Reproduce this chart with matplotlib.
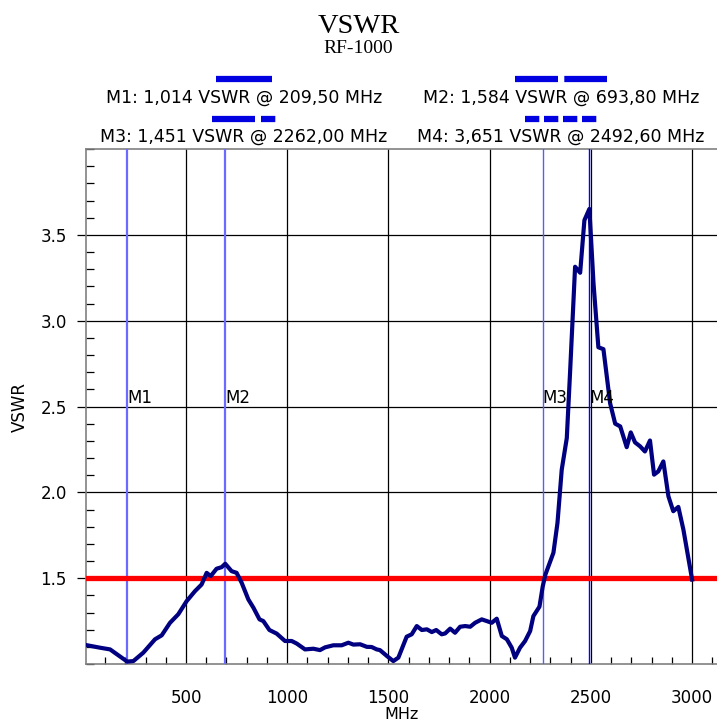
import matplotlib
matplotlib.use("Agg")
import matplotlib.pyplot as plt
from matplotlib.lines import Line2D
from matplotlib.ticker import MultipleLocator

# sweep data
freq_mhz = [12, 75, 125, 209.5, 240, 289, 347, 380, 421, 462, 503, 544, 577, 602, 622,
            651, 676, 693.8, 725, 750, 775, 808, 833, 863, 882, 912, 948, 989, 1022, 1047,
            1088, 1129, 1162, 1187, 1228, 1269, 1302, 1327, 1360, 1393, 1417, 1442, 1458,
            1492, 1524, 1549, 1590, 1615, 1640, 1665, 1690, 1714, 1736, 1763, 1780, 1805,
            1829, 1854, 1879, 1904, 1928, 1961, 1986, 2010, 2035, 2060, 2085, 2109, 2125,
            2150, 2175, 2200, 2216, 2246, 2262, 2275, 2315, 2335, 2356, 2381, 2397, 2422,
            2447, 2468, 2492.6, 2513, 2537, 2562, 2595, 2620, 2645, 2677, 2697, 2718, 2743,
            2767, 2792, 2812, 2833, 2858, 2883, 2907, 2932, 2957, 3000]
vswr = [1.109, 1.095, 1.085, 1.014, 1.017, 1.066, 1.144, 1.167, 1.24, 1.29, 1.366, 1.424,
        1.463, 1.531, 1.512, 1.555, 1.564, 1.584, 1.541, 1.531, 1.473, 1.376, 1.328, 1.26,
        1.25, 1.198, 1.177, 1.134, 1.134, 1.119, 1.085, 1.089, 1.081, 1.097, 1.109, 1.109,
        1.124, 1.113, 1.115, 1.10, 1.099, 1.085, 1.081, 1.047, 1.017, 1.037, 1.159, 1.173,
        1.221, 1.198, 1.202, 1.186, 1.198, 1.173, 1.178, 1.206, 1.182, 1.217, 1.221, 1.217,
        1.24, 1.26, 1.25, 1.24, 1.264, 1.163, 1.144, 1.095, 1.037, 1.095, 1.134, 1.192,
        1.279, 1.334, 1.451, 1.52, 1.648, 1.822, 2.132, 2.316, 2.694, 3.314, 3.279, 3.585,
        3.651, 3.217, 2.845, 2.834, 2.519, 2.40, 2.384, 2.263, 2.349, 2.291, 2.268, 2.238,
        2.302, 2.103, 2.122, 2.18, 1.977, 1.89, 1.915, 1.783, 1.492]

limit = 1.5

marker_names = ["M1", "M2", "M3", "M4"]
marker_freq = [209.5, 693.8, 2262.0, 2492.6]
marker_vswr = [1.014, 1.584, 1.451, 3.651]
marker_colors = ["#6b6bff", "#6b6bff", "#5a5aff", "#0000ff"]
marker_widths = [1.6, 1.6, 1.0, 1.0]

W, H = 717, 722
plt.rcParams["lines.scale_dashes"] = False
fig = plt.figure(figsize=(W / 100, H / 100), dpi=100)

# axes box in pixels: left 86, right 717, top 149, bottom 664
ax = fig.add_axes([86 / W, (H - 664) / H, (717 - 86) / W, (664 - 149) / H])

ax.plot(freq_mhz, vswr, color="#000080", lw=3, zorder=5, solid_joinstyle="round")
ax.axhline(limit, color="#ff0000", lw=3.8, zorder=4)

for name, f, c, w in zip(marker_names, marker_freq, marker_colors, marker_widths):
    ax.axvline(f, color=c, lw=w, zorder=3)
    ax.text(f, 2.52, name, fontsize=12, ha="left", va="baseline", zorder=6)

ax.set_xlim(6, 3123)
ax.set_ylim(1.0, 4.0)
ax.set_xticks([500, 1000, 1500, 2000, 2500, 3000])
ax.set_yticks([1.5, 2.0, 2.5, 3.0, 3.5])
ax.xaxis.set_minor_locator(MultipleLocator(100))
ax.yaxis.set_minor_locator(MultipleLocator(0.1))
ax.grid(True, which="major", color="black", lw=0.9)
ax.set_axisbelow(True)

ax.tick_params(axis="x", which="major", direction="in", length=0, pad=17.8, labelsize=12)
ax.tick_params(axis="x", which="minor", direction="in", length=5, width=0.9, color="black")
ax.tick_params(axis="y", which="major", direction="out", length=6.5, width=0.9,
               color="black", pad=7.4, labelsize=12)
ax.tick_params(axis="y", which="minor", direction="in", length=6, width=0.9, color="black")

for side in ["left", "bottom", "top"]:
    ax.spines[side].set_color("#808080")
    ax.spines[side].set_linewidth(1.2)
ax.spines["right"].set_visible(False)

ax.set_xlabel("MHz", fontsize=11.5, labelpad=0)
ax.set_ylabel("VSWR", fontsize=12, labelpad=8)

# header
fig.text(0.5, 1 - 33.3 / H, "VSWR", family="Liberation Serif", fontsize=20.5,
         ha="center", va="baseline")
fig.text(0.5, 1 - 52.7 / H, "RF-1000", family="Liberation Serif", fontsize=14,
         ha="center", va="baseline")

# marker readouts with line-style swatches (pattern lengths in px)
swatch_patterns = [None, (43, 6.3), (43, 6, 14.3, 6), (14.3, 4.7)]
swatch_lengths = [55.7, 92, 63.3, 71.3]
col_x = [244, 561, 244, 561]
row_swatch_y = [79, 79, 119, 119]
row_text_y = [102.7, 102.7, 141.7, 141.7]

for i, name in enumerate(marker_names):
    label = "%s: %s VSWR @ %s MHz" % (
        name,
        ("%.3f" % marker_vswr[i]).replace(".", ","),
        ("%.2f" % marker_freq[i]).replace(".", ","),
    )
    fig.text(col_x[i] / W, 1 - row_text_y[i] / H, label, fontsize=12.5,
             ha="center", va="baseline")
    x0 = (col_x[i] - swatch_lengths[i] / 2) / W
    x1 = (col_x[i] + swatch_lengths[i] / 2) / W
    y = 1 - row_swatch_y[i] / H
    ln = Line2D([x0, x1], [y, y], transform=fig.transFigure, color="#0000e0",
                lw=4.5, solid_capstyle="butt", dash_capstyle="butt")
    if swatch_patterns[i] is not None:
        ln.set_dashes([p * 0.72 for p in swatch_patterns[i]])
    fig.add_artist(ln)

fig.savefig("out.png", dpi=100)
